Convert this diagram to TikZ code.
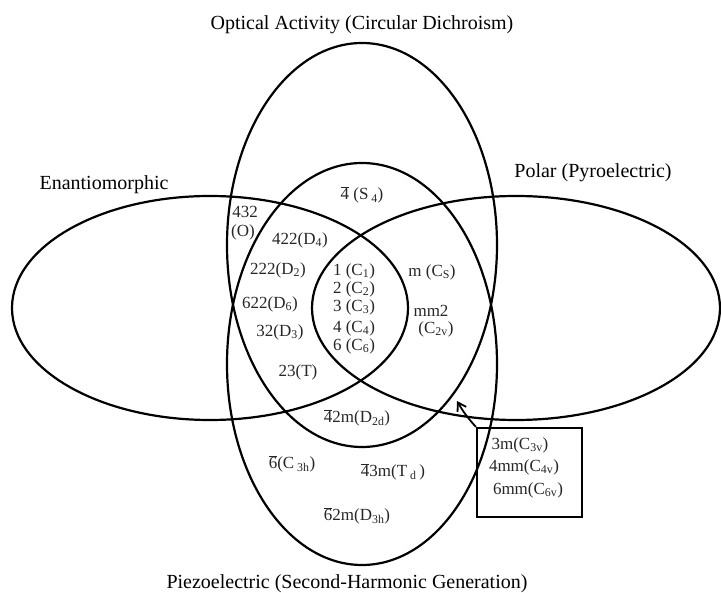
\documentclass[tikz,border=0pt]{standalone}
\usepackage{fontspec}
\setmainfont{Liberation Serif}
\usetikzlibrary{arrows.meta}
\newcommand\obar[1]{\ensuremath{\overline{\mbox{#1}}}}
\begin{document}
\begin{tikzpicture}[x=1pt,y=-1pt,
  venn/.style={line width=2.2pt},
  title/.style={font=\fontsize{20}{24}\selectfont, inner sep=0pt},
  grp/.style={font=\fontsize{17}{20}\selectfont, inner sep=0pt, text=black!85},
  boxed/.style={draw, line width=2.2pt, minimum width=105pt, minimum height=89pt, inner sep=0pt},
  pointer/.style={line width=1.8pt, -{Straight Barb[length=8pt,width=10pt]}}]
\useasboundingbox (0,0) rectangle (721,593);
% the four sets
\draw[venn] (210,308) ellipse [x radius=198pt, y radius=112pt];
\draw[venn] (516,308) ellipse [x radius=204pt, y radius=112pt];
\draw[venn] (362,245) ellipse [x radius=135pt, y radius=202pt];
\draw[venn] (362,364) ellipse [x radius=135pt, y radius=201pt];
% titles
\node[title] (topt) at (362,25) {Optical Activity (Circular Dichroism)};
\node[title] (tenan) at (104,185) {Enantiomorphic};
\node[title] (tpol) at (593,173) {Polar (Pyroelectric)};
\node[title] (tpiez) at (347,584) {Piezoelectric (Second-Harmonic Generation)};
% point groups
\node[grp] (s4) at (362,195) {\obar{4} (S\,\textsubscript{4})};
\node[grp] (o1) at (245,212) {432};
\node[grp] (o2) at (243,232) {(O)};
\node[grp] (d4) at (300,240) {422(D\textsubscript{4})};
\node[grp] (d2) at (278,270) {222(D\textsubscript{2})};
\node[grp] (d6) at (270,304) {622(D\textsubscript{6})};
\node[grp] (d3) at (280,332) {32(D\textsubscript{3})};
\node[grp] (t) at (298,372) {23(T)};
\node[grp] (c1) at (354,271) {1 (C\textsubscript{1})};
\node[grp] (c2) at (354,289) {2 (C\textsubscript{2})};
\node[grp] (c3) at (354,307) {3 (C\textsubscript{3})};
\node[grp] (c4) at (354,328) {4 (C\textsubscript{4})};
\node[grp] (c6) at (354,346) {6 (C\textsubscript{6})};
\node[grp] (cs) at (432,272) {m (C\textsubscript{S})};
\node[grp] (mm2) at (431,311) {mm2};
\node[grp] (c2v) at (436,329) {(C\textsubscript{2v})};
\node[grp] (d2d) at (357,418) {\obar{4}2m(D\textsubscript{2d})};
\node[grp] (c3h) at (292,464) {\obar{6}(C\,\textsubscript{3h})};
\node[grp] (td) at (393,472) {\obar{4}3m(T\,\textsubscript{d}\,)};
\node[grp] (d3h) at (357,516) {\obar{6}2m(D\textsubscript{3h})};
% box
\node[boxed] (box) at (529.5,472.5) {};
\node[grp] (c3v) at (520,445) {3m(C\textsubscript{3v})};
\node[grp] (c4v) at (524,467) {4mm(C\textsubscript{4v})};
\node[grp] (c6v) at (528,490) {6mm(C\textsubscript{6v})};
\coordinate (tip) at (457,401);
\draw[pointer] (box.north west) to[bend left=6] (tip);
\end{tikzpicture}
\end{document}
